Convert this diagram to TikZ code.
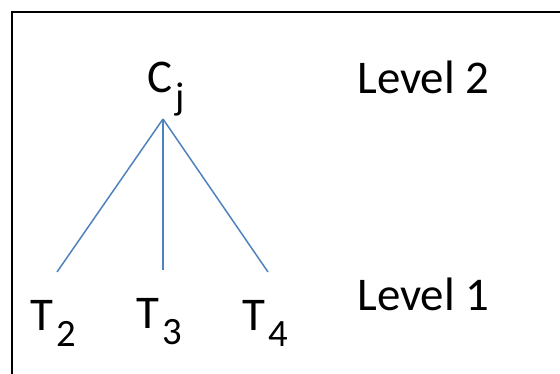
\documentclass[tikz,border=0pt]{standalone}
\usepackage{fontspec}
\setmainfont{Carlito}
\usetikzlibrary{positioning}
\tikzset{>=latex}
\definecolor{treeblue}{RGB}{79,129,189}
\newcommand{\lowsub}[1]{\kern1.8pt\raisebox{-9.5pt}{\fontsize{22}{22}\selectfont #1}}

\begin{document}
\begin{tikzpicture}[x=0.02cm,y=-0.02cm,
  lbl/.style={inner sep=0pt,anchor=base west,font=\fontsize{26.7}{30}\selectfont},
  edge/.style={draw=treeblue,line width=0.85pt}]
  \useasboundingbox (0,0) rectangle (560,374);
  \draw[line width=1.1pt] (12,374) -- (12,12) -- (560,12);

  \node[lbl] (cj) at (147,93) {C\lowsub{j}};
  \node[lbl] (t2) at (30,330) {T\lowsub{2}};
  \node[lbl] (t3) at (136,328) {T\lowsub{3}};
  \node[lbl] (t4) at (242,330) {T\lowsub{4}};
  \node[lbl] (lv2) at (357,94) {Level 2};
  \node[lbl] (lv1) at (357,311) {Level 1};

  \coordinate (apex) at (163,119);
  \coordinate (e2) at (57,272);
  \coordinate (e3) at (163,270);
  \coordinate (e4) at (268,272);
  \draw[edge] (apex) -- (e2);
  \draw[edge] (apex) -- (e3);
  \draw[edge] (apex) -- (e4);
\end{tikzpicture}
\end{document}
